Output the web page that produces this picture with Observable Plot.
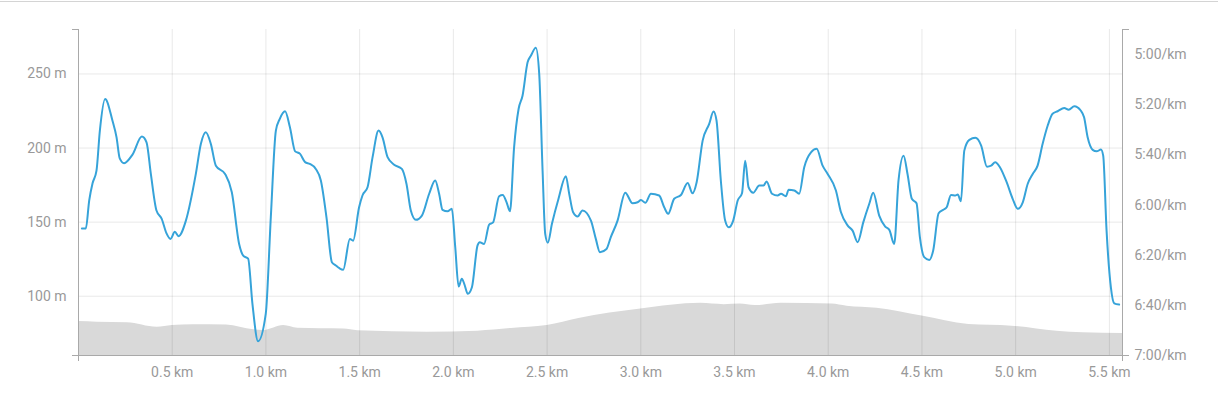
<!DOCTYPE html>
<html>
<head>
<meta charset="utf-8">
<script src="https://cdn.jsdelivr.net/npm/d3@7"></script>
<script src="https://cdn.jsdelivr.net/npm/@observablehq/plot@0.6"></script>
<style>
  html, body { margin: 0; padding: 0; background: #fff; }
  #wrap { position: relative; width: 1218px; height: 393px; }
  #topline { position: absolute; left: 0; top: 1px; width: 1218px; height: 1px; background: #d4d4d4; }
  #chart { position: absolute; left: 0; top: 0; }
</style>
</head>
<body>
<div id="wrap"><div id="chart"></div><div id="topline"></div></div>
<script>
// Pace (blue line): distance in km, pace in seconds per km
const paceDistKm = [0.018,0.039,0.057,0.075,0.096,0.114,0.142,0.181,0.203,0.220,0.243,0.288,0.338,0.363,0.386,0.416,0.444,0.469,0.491,0.514,0.534,0.573,0.626,0.653,0.679,0.706,0.733,0.782,0.818,0.857,0.880,0.905,0.928,0.958,0.999,1.026,1.053,1.074,1.102,1.128,1.156,1.181,1.209,1.234,1.266,1.293,1.323,1.352,1.373,1.392,
1.412,1.448,1.465,1.497,1.515,1.542,1.569,1.601,1.622,1.649,1.684,1.725,1.750,1.773,1.800,1.832,1.871,1.903,1.924,1.942,1.969,1.992,2.010,2.028,2.045,2.058,2.077,2.099,2.129,2.141,2.164,2.191,2.212,2.244,2.263,2.284,2.302,2.324,2.348,2.369,2.396,2.414,2.440,2.458,2.476,2.490,2.504,2.526,2.561,2.600,2.618,2.639,2.663,2.689,2.734,2.760,2.782,
2.817,2.840,2.876,2.917,2.956,2.983,3.001,3.024,3.054,3.098,3.125,3.146,3.178,3.214,3.250,3.276,3.298,3.330,3.365,3.388,3.404,3.427,3.450,3.469,3.493,3.517,3.540,3.557,3.575,3.600,3.632,3.655,3.671,3.700,3.730,3.748,3.774,3.789,3.819,3.845,3.872,3.908,3.938,3.970,3.997,4.041,4.068,4.104,4.130,4.157,
4.187,4.219,4.240,4.272,4.304,4.326,4.352,4.375,4.402,4.423,4.446,4.471,4.489,4.512,4.539,4.560,4.589,4.614,4.632,4.655,4.678,4.691,4.708,4.726,4.753,4.785,4.816,4.847,4.869,4.891,4.916,4.952,4.984,5.011,5.038,5.064,5.091,5.117,5.144,5.171,5.197,5.224,5.259,5.283,5.313,5.347,5.365,5.384,5.411,5.432,5.455,5.467,5.485,5.508,5.526,5.552];
const paceSecPerKm = [369.4,369.4,358.2,351.3,346.3,330.3,317.7,326.3,333.0,341.4,343.3,339.9,332.7,335.0,347.6,362.2,365.5,371.2,373.5,370.7,372.4,366.2,347.6,335.6,331.0,335.6,344.3,347.6,354.9,375.5,380.3,381.4,399.4,414.3,403.4,364.9,330.3,325.6,322.6,329.0,338.6,339.5,342.9,343.6,345.6,350.2,364.9,382.8,384.1,385.2,
385.8,373.5,374.2,360.9,356.2,352.9,340.9,330.3,333.0,340.9,343.9,345.6,351.6,362.2,365.9,364.2,355.5,350.2,355.5,361.9,362.5,361.5,376.8,392.5,389.4,391.4,395.4,392.8,376.1,374.8,375.5,367.8,366.9,356.5,356.0,358.9,362.5,337.0,321.7,316.4,303.1,300.4,297.3,307.7,346.3,371.5,375.0,367.5,357.5,348.5,355.5,362.9,364.6,362.2,366.2,373.5,378.8,
377.5,372.8,366.2,355.1,359.3,358.9,358.0,359.1,355.5,356.2,360.9,363.5,357.5,356.0,351.2,355.3,350.9,334.3,327.6,322.7,326.3,350.2,366.2,368.9,366.2,358.2,355.3,342.3,352.9,355.1,352.2,352.2,350.6,355.5,356.2,355.5,356.5,353.9,354.2,355.5,344.9,339.0,337.6,344.3,347.6,354.2,362.9,368.2,370.2,374.8,
366.9,359.5,355.1,364.2,368.6,369.9,375.5,350.2,340.3,347.6,357.5,359.3,372.8,380.8,381.9,378.1,363.3,361.9,360.9,356.0,356.2,355.8,358.5,338.3,334.0,333.2,336.3,344.7,344.3,342.9,344.9,350.9,357.5,361.5,358.9,351.6,347.6,344.3,335.6,328.3,323.6,322.6,321.3,322.0,320.6,322.3,325.0,333.0,338.0,338.6,337.9,340.3,370.2,392.8,399.2,399.7];

// Elevation (gray area): distance in km, elevation in m
const elevDistKm = [0,0.10,0.26,0.42,0.50,0.61,0.79,0.935,0.99,1.095,1.17,1.415,1.49,1.86,2.13,2.31,2.50,2.67,3.00,3.32,3.445,3.53,3.61,3.75,4.02,4.10,4.26,4.50,4.75,4.98,5.22,5.36,5.57];
const elevM = [82.9,82.5,82.1,79.1,80.2,80.8,80.5,77.3,76.9,80.2,78.4,77.8,76.7,75.7,76.4,78.2,80.2,85.0,91.3,95.2,94.3,94.7,93.7,95.2,94.7,93.3,91.9,86.6,80.9,79.8,76.4,75.3,74.8];

// Axis ticks
const distTicksKm = [0.5,1.0,1.5,2.0,2.5,3.0,3.5,4.0,4.5,5.0,5.5];
const elevTicksM = [100,150,200,250];
const paceTicksSec = [300,320,340,360,380,400,420];

const X_MAX = 5.57;
const ELEV_MIN = 60, ELEV_MAX = 280;
const PACE_BOTTOM = 420, PACE_TOP = 290;
// map pace (s/km) onto the elevation y scale (right axis is a second reading of the same scale)
const paceToY = p => ELEV_MIN + (PACE_BOTTOM - p) * (ELEV_MAX - ELEV_MIN) / (PACE_BOTTOM - PACE_TOP);
const yToPace = y => PACE_BOTTOM - (y - ELEV_MIN) * (PACE_BOTTOM - PACE_TOP) / (ELEV_MAX - ELEV_MIN);
const fmtPace = s => { s = Math.round(s); return `${Math.floor(s / 60)}:${String(s % 60).padStart(2, "0")}/km`; };

const paceRows = paceDistKm.map((d, i) => ({d, p: paceSecPerKm[i]}));
const elevRows = elevDistKm.map((d, i) => ({d, e: elevM[i]}));

const textColor = "#999999";
const axisColor = "#a9a9a9";

const chart = Plot.plot({
  width: 1218,
  height: 393,
  marginLeft: 78,
  marginRight: 96,
  marginTop: 29,
  marginBottom: 38,
  style: {fontFamily: "Roboto, sans-serif", fontSize: "14px", background: "transparent"},
  x: {domain: [0, X_MAX]},
  y: {domain: [ELEV_MIN, ELEV_MAX]},
  marks: [
    Plot.areaY(elevRows, {x: "d", y1: ELEV_MIN, y2: "e", fill: "#d9d9d9", curve: "monotone-x"}),
    Plot.ruleX(distTicksKm, {stroke: "#000", strokeOpacity: 0.09}),
    Plot.ruleY(elevTicksM, {stroke: "#000", strokeOpacity: 0.09}),
    Plot.line(paceRows, {x: "d", y: r => paceToY(r.p), stroke: "#36a3d9", strokeWidth: 2, curve: "monotone-x"}),
    Plot.ruleX([0, X_MAX], {stroke: axisColor}),
    Plot.ruleY([ELEV_MIN], {stroke: axisColor}),
    Plot.axisY(elevTicksM, {anchor: "left", tickSize: 0, tickPadding: 12, tickFormat: d => `${d} m`, color: textColor, label: null}),
    Plot.axisY([ELEV_MIN, ELEV_MAX], {anchor: "left", tickSize: 6, tickFormat: () => "", stroke: axisColor, label: null}),
    Plot.axisY(paceTicksSec.map(paceToY), {anchor: "right", tickSize: 0, tickPadding: 12, tickFormat: y => fmtPace(yToPace(y)), color: textColor, label: null}),
    Plot.axisY([ELEV_MIN, ELEV_MAX], {anchor: "right", tickSize: 6, tickFormat: () => "", stroke: axisColor, label: null}),
    Plot.axisX(distTicksKm, {anchor: "bottom", tickSize: 0, tickPadding: 12, tickFormat: d => `${d.toFixed(1)} km`, color: textColor, label: null}),
    Plot.axisX([0, X_MAX], {anchor: "bottom", tickSize: 6, tickFormat: () => "", stroke: axisColor, label: null})
  ]
});
document.getElementById("chart").appendChild(chart);
</script>
</body>
</html>
